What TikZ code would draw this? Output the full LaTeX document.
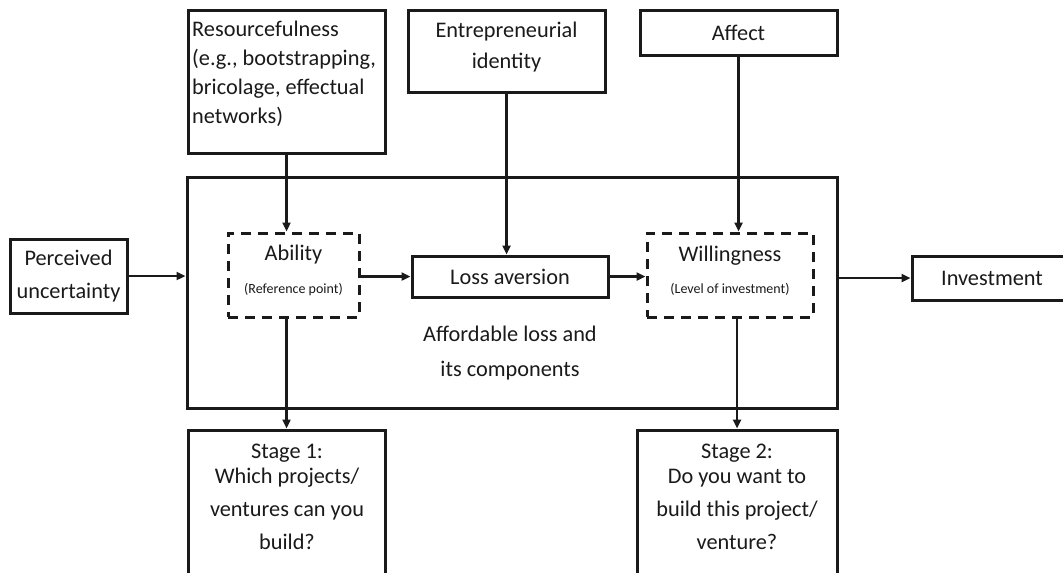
\documentclass[tikz,border=0pt]{standalone}
\usepackage{fontspec}
\setmainfont{Carlito}
\usetikzlibrary{arrows.meta}
\newcommand\mainsz{\fontsize{22.3}{29}\selectfont}
\newcommand\widesz{\fontsize{22.3}{33}\selectfont}
\newcommand\smallsz{\fontsize{14}{16}\selectfont}
\definecolor{ink}{HTML}{1A1A1A}
\begin{document}
\begin{tikzpicture}[x=1pt,y=-1pt,
  box/.style={draw=ink, line width=3pt, rectangle, inner sep=0pt, align=center, font=\mainsz, text=ink},
  dbox/.style={box, dash pattern=on 10pt off 7pt},
  txt/.style={inner sep=0pt, align=center, font=\mainsz, text=ink},
  arr/.style={draw=ink, -{Triangle[length=9pt,width=8pt]}, line width=2.6pt},
  ]
\useasboundingbox (0,0) rectangle (1063,573);
\fill[white] (0,0) rectangle (1063,573);
% frame of affordable loss
\node[box, minimum width=650pt, minimum height=231pt] (big) at (512,292.5) {};
\node[txt] (bigt) at (510,353.5) {Affordable loss and\\[6pt]its components};
% left input
\node[box, font=\widesz, minimum width=117pt, minimum height=74pt] (pu) at (68.5,276) {Perceived\\uncertainty};
% top inputs
\node[box, minimum width=197pt, minimum height=143pt] (res) at (286.5,81.5) {};
\node[txt, align=left, anchor=west] (rest) at (192,74.3) {Resourcefulness\\(e.g., bootstrapping,\\bricolage, effectual\\networks)};
\node[box, minimum width=197pt, minimum height=82pt] (ent) at (506.5,51) {};
\node[txt] (entt) at (506.5,47) {Entrepreneurial\\[2pt]identity};
\node[box, minimum width=197pt, minimum height=45pt] (aff) at (738.5,32.5) {Affect};
% components
\node[dbox, minimum width=131pt, minimum height=84pt] (abil) at (293.5,275) {};
\node[txt] (abilt) at (293.5,270.5) {Ability\\[3.3pt]{\smallsz(Reference point)}};
\node[box, minimum width=196pt, minimum height=41pt] (loss) at (510,276.5) {Loss aversion};
\node[dbox, minimum width=166pt, minimum height=84pt] (will) at (730,275) {};
\node[txt] (willt) at (730,270.5) {Willingness\\[3.3pt]{\smallsz(Level of investment)}};
% output
\node[box, minimum width=160pt, minimum height=44pt] (inv) at (992,278) {Investment};
% stages
\node[box, minimum width=197pt, minimum height=170pt] (st1) at (286.5,515) {};
\node[txt, font=\widesz] (st1t) at (287,497) {Stage 1:\\[-8pt]Which projects/\\ventures can you\\build?};
\node[box, minimum width=200pt, minimum height=170pt] (st2) at (737,515) {};
\node[txt, font=\widesz] (st2t) at (737,497) {Stage 2:\\[-8pt]Do you want to\\build this project/\\venture?};
% connectors
\draw[arr] (pu.east) -- (pu.east -| big.west);
\draw[arr] (res.south) -- (res.south |- abil.north);
\draw[arr] (ent.south) -- (ent.south |- loss.north);
\draw[arr] (aff.south) -- (aff.south |- will.north);
\draw[arr] (loss.west -| abil.east) -- (loss.west);
\draw[arr] (loss.east) -- (loss.east -| will.west);
\draw[arr] (big.east |- inv.west) -- (inv.west);
\draw[arr] (abil.south -| st1.north) -- (st1.north);
\draw[arr] (will.south -| st2.north) -- (st2.north);
\end{tikzpicture}
\end{document}
